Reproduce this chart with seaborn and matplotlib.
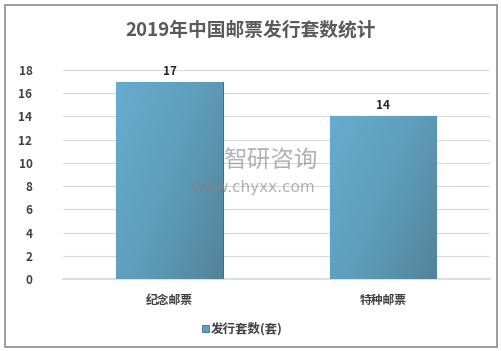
import numpy as np
import pandas as pd
import matplotlib.pyplot as plt
import seaborn as sns
from matplotlib.patches import Rectangle
from matplotlib.colors import LinearSegmentedColormap

categories = ['纪念邮票', '特种邮票']
values = [17, 14]
series_name = '发行套数(套)'
title = '2019年中国邮票发行套数统计'
y_ticks = [0, 2, 4, 6, 8, 10, 12, 14, 16, 18]

sns.set_theme(style='white')
plt.rcParams['font.family'] = ['Noto Sans CJK SC', 'DejaVu Sans']

df = pd.DataFrame({'类别': categories, '数量': values})

fig = plt.figure(figsize=(5.01, 3.51), dpi=100)
ax = fig.add_axes([0.1257, 0.205, 0.852, 0.5956])

sns.barplot(data=df, x='类别', y='数量', ax=ax, color='#5f9fbd', width=0.5,
            edgecolor='#3f6f86', linewidth=0.8, saturation=1, zorder=3)

# diagonal gradient inside each bar (light top-left -> darker bottom-right)
cmap = LinearSegmentedColormap.from_list('bar', ['#67acce', '#5f9dbb', '#52849a'])
gx, gy = np.meshgrid(np.linspace(0, 1, 60), np.linspace(0, 1, 120))
grad = 0.6 * gx + 0.4 * gy
for p in ax.patches:
    x0, w, h = p.get_x(), p.get_width(), p.get_height()
    im = ax.imshow(grad, cmap=cmap, extent=(x0, x0 + w, 0, h), origin='upper',
                   aspect='auto', zorder=3.2, interpolation='bilinear')
    im.set_clip_path(p)

for i, v in enumerate(values):
    ax.text(i, v + 0.35, str(v), ha='center', va='bottom', fontsize=8.5,
            fontweight='bold', color='#262626')

ax.set_ylim(0, 18)
ax.set_yticks(y_ticks)
ax.set_xlim(-0.5, 1.5)
ax.yaxis.grid(True, color='#d9d9d9', linewidth=0.8, zorder=0)
ax.set_axisbelow(True)
for s in ['top', 'right', 'left']:
    ax.spines[s].set_visible(False)
ax.spines['bottom'].set_color('#d9d9d9')
ax.set_xlabel('')
ax.set_ylabel('')
ax.tick_params(axis='y', length=0, pad=22, labelsize=8.5, labelcolor='#404040')
ax.tick_params(axis='x', length=0, pad=11, labelsize=8.5, labelcolor='#404040')
for lbl in ax.get_yticklabels() + ax.get_xticklabels():
    lbl.set_fontweight('bold')

fig.text(0.5, 0.915, title, ha='center', va='center', fontsize=13.5,
         fontweight='bold', color='#5a5a5a')

# legend
fig.patches.append(Rectangle((0.404, 0.053), 0.014, 0.02, transform=fig.transFigure,
                             facecolor='#5f9fbd', edgecolor='#3f6f86', lw=0.6))
fig.text(0.421, 0.063, series_name, ha='left', va='center', fontsize=9,
         fontweight='bold', color='#404040')

# watermark
fig.text(0.54, 0.54, '智研咨询', ha='center', va='center', fontsize=17,
         color='#808080', alpha=0.6, zorder=10)
fig.text(0.505, 0.465, 'www.chyxx.com', ha='center', va='center', fontsize=11,
         color='#808080', alpha=0.6, zorder=10, family='DejaVu Sans')

# outer frame
fig.patches.append(Rectangle((0.009, 0.012), 0.983, 0.975, transform=fig.transFigure,
                             fill=False, edgecolor='#8c8c8c', lw=1.2))

fig.savefig('out.png', dpi=100)
